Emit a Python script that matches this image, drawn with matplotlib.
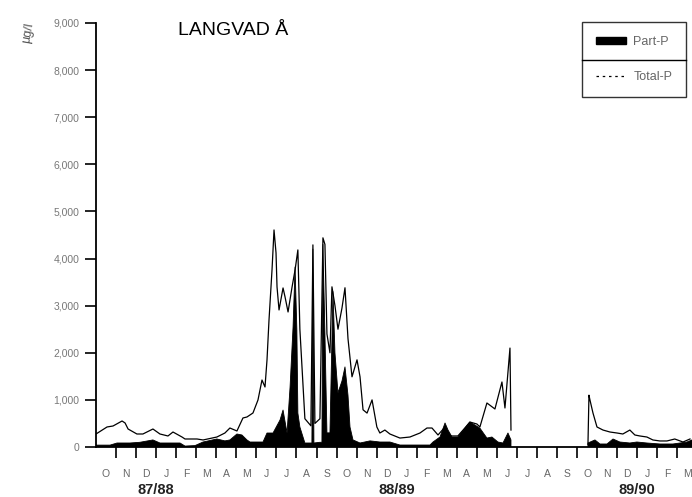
import numpy as np
import matplotlib
matplotlib.use("Agg")
import matplotlib.pyplot as plt
from matplotlib.patches import Patch
from matplotlib.lines import Line2D

plt.rcParams['font.family'] = ['Liberation Sans', 'DejaVu Sans']

# time axis: months since 1 Oct 1987
total_t = [0.00, 0.55, 0.85, 1.30, 1.45, 1.60, 2.04, 2.34, 2.84, 3.19, 3.59, 3.84, 4.29, 4.44,
           5.04, 5.34, 6.03, 6.43, 6.68, 7.03, 7.33, 7.53, 7.83, 8.08, 8.28, 8.43, 8.53, 8.63,
           8.78, 8.88, 8.98, 9.03, 9.13, 9.33, 9.43, 9.58, 9.78, 9.93, 10.07, 10.17, 10.42,
           10.72, 10.82, 10.92, 11.17, 11.32, 11.42, 11.52, 11.67, 11.77, 11.92, 12.07, 12.27,
           12.42, 12.57, 12.77, 13.02, 13.17, 13.32, 13.52, 13.77, 14.01, 14.16, 14.41, 14.66,
           15.16, 15.66, 16.16, 16.51, 16.76, 17.06, 17.41, 17.66, 18.05, 18.40, 18.65, 19.00,
           19.15, 19.50, 19.90, 20.25, 20.40, 20.55, 20.65, 20.70,
           22.60,
           24.54, 24.59, 24.64, 24.79, 24.99, 25.29, 25.64, 25.99, 26.28, 26.63, 26.88, 27.13,
           27.48, 27.78, 28.13, 28.48, 28.87, 29.28, 29.63]
total_p = [276, 425, 446, 552, 510, 382, 276, 276, 382, 276, 234, 318, 212, 170,
           170, 149, 212, 297, 403, 340, 616, 637, 722, 998, 1422, 1274, 1847, 2696,
           3758, 4607, 4119, 3397, 2909, 3376, 3185, 2866, 3397, 3758, 4183, 2500, 600,
           450, 4290, 500, 600, 4440, 4300, 2400, 2000, 3400, 3000, 2500, 2950,
           3380, 2300, 1490, 1850, 1490, 790, 720, 1000, 425, 297, 360, 276,
           190, 212, 297, 403, 403, 255, 425, 234, 234, 403, 530, 488,
           425, 934, 807, 1380, 828, 1590, 2100, 360,
           np.nan,
           50, 1100, 998, 722, 425, 360, 318, 297, 276, 360, 255, 234,
           212, 149, 128, 128, 170, 106, 170]

part_t = [0.00, 0.70, 1.05, 1.70, 2.19, 2.84, 3.19, 4.19, 4.44, 4.94, 5.34, 6.03, 6.43, 6.68,
          7.03, 7.28, 7.53, 7.68, 8.33, 8.53, 8.83, 9.18, 9.33, 9.53, 9.68, 9.83, 9.93, 10.02,
          10.07, 10.17, 10.42, 10.77, 10.82, 10.87, 11.17, 11.27, 11.32, 11.42, 11.52, 11.67,
          11.82, 11.92, 12.07, 12.27, 12.42, 12.57, 12.67, 12.82, 13.17, 13.67, 14.16, 14.66,
          15.16, 16.66, 16.81, 17.16, 17.41, 17.56, 17.76, 18.05, 18.40, 18.65, 18.90, 19.15,
          19.50, 19.75, 20.05, 20.30, 20.55, 20.70,
          22.60,
          24.54, 24.89, 25.14, 25.49, 25.79, 26.13, 26.63, 26.98, 27.48, 28.13, 28.78, 29.48, 29.73]
part_p = [40, 40, 85, 85, 100, 150, 85, 85, 20, 30, 106, 170, 130, 150,
          276, 255, 150, 106, 106, 297, 297, 573, 785, 297, 1270, 2550, 3820, 2480,
          720, 425, 85, 85, 4200, 85, 100, 100, 4300, 2400, 300, 300,
          3300, 2000, 1150, 1400, 1700, 1100, 425, 150, 85, 130, 106, 106,
          42, 42, 106, 212, 510, 360, 212, 212, 400, 530, 467, 400,
          190, 212, 106, 85, 297, 150,
          np.nan,
          85, 150, 64, 64, 170, 106, 85, 106, 85, 64, 64, 106, 150]

month_labels = ["O", "N", "D", "J", "F", "M", "A", "M", "J", "J", "A", "S"] * 2 + \
               ["O", "N", "D", "J", "F", "M"]
season_labels = ["87/88", "88/89", "89/90"]
y_ticks = [0, 1000, 2000, 3000, 4000, 5000, 6000, 7000, 8000, 9000]
y_tick_labels = ["0", "1,000", "2,000", "3,000", "4,000", "5,000", "6,000", "7,000", "8,000", "9,000"]

fig = plt.figure(figsize=(6.92, 4.97), dpi=100)
ax = fig.add_axes([96/692, 50/497, 596/692, 424/497])

pt = np.array(part_t, dtype=float)
pv = np.array(part_p, dtype=float)
ax.fill_between(pt, 0, pv, where=~np.isnan(pv), color="black", linewidth=0.6, interpolate=False)
ax.plot(total_t, total_p, color="black", linewidth=0.9)

ax.set_xlim(0, 29.73)
ax.set_ylim(0, 9000)

for s in ["top", "right"]:
    ax.spines[s].set_visible(False)
ax.spines["left"].set_linewidth(1.3)
ax.spines["bottom"].set_linewidth(1.3)

ax.set_yticks(y_ticks)
ax.set_yticklabels(y_tick_labels, fontsize=7.5, color="#777777")
ax.tick_params(axis="y", direction="out", length=8, width=1.2, pad=4)

ax.set_xticks(np.arange(1, 30))
ax.set_xticklabels([])
ax.tick_params(axis="x", direction="out", length=8, width=1.2)
ax.set_xticks(np.arange(len(month_labels)) + 0.5, minor=True)
ax.set_xticklabels(month_labels, minor=True, fontsize=7.5, color="#666666")
ax.tick_params(axis="x", which="minor", length=0, pad=16)

for lab, pos in zip(season_labels, [3.0, 15.0, 27.0]):
    ax.text(pos, -0.102, lab, transform=ax.get_xaxis_transform(), ha="center", va="center",
            fontsize=10.5, fontweight="bold", color="#222222")

ax.text(0.138, 0.983, "LANGVAD Å", transform=ax.transAxes, ha="left", va="center",
        fontsize=14, color="black")

fig.text(0.040, 0.935, "µg/l", rotation=80, ha="center", va="center", fontsize=9, color="#555555")

handles = [Patch(facecolor="black", edgecolor="black"),
           Line2D([0], [0], color="black", linewidth=0.9, linestyle=(0, (2, 3)))]
leg = ax.legend(handles, ["Part-P", "Total-P"], loc="upper right",
                bbox_to_anchor=(686/692, 1 - 22/497), bbox_transform=fig.transFigure,
                frameon=True, fancybox=False, edgecolor="black", fontsize=9,
                labelspacing=1.9, borderpad=1.1, handlelength=2.4, handleheight=0.55,
                handletextpad=0.6, borderaxespad=0)
leg.get_frame().set_linewidth(1.0)
for t in leg.get_texts():
    t.set_color("#666666")

fig.canvas.draw()
bb = leg.get_window_extent().transformed(fig.transFigure.inverted())
ymid = (bb.y0 + bb.y1) / 2
fig.add_artist(Line2D([bb.x0, bb.x1], [ymid, ymid], transform=fig.transFigure,
                      color="black", linewidth=1.0))

fig.savefig("out.png", dpi=100)
